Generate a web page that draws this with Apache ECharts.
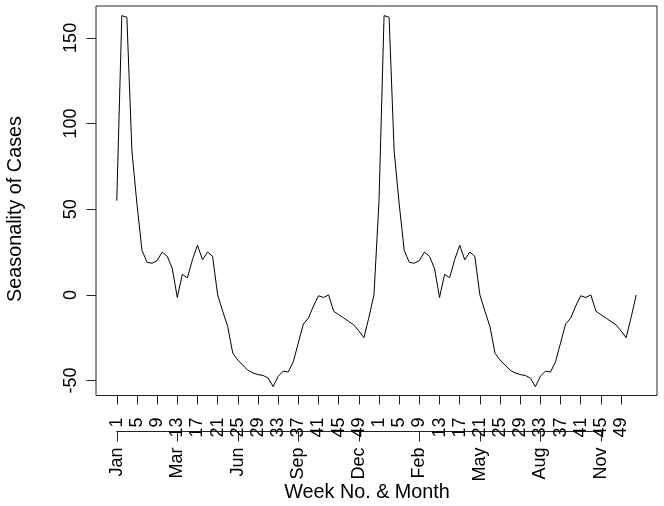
<!DOCTYPE html>
<html>
<head>
<meta charset="utf-8">
<script src="https://cdn.jsdelivr.net/npm/echarts@6/dist/echarts.min.js"></script>
<style>
html,body{margin:0;padding:0;background:#fff;}
#chart{width:664px;height:506px;}
</style>
</head>
<body>
<div id="chart"></div>
<script>
// Seasonality values, week 1..52 of year 1
var year1Values = [55, 163, 162, 84, 53, 26, 19, 18.5, 20, 25, 22.5, 15.5, -1.5, 12, 10, 20.5, 29, 20.5, 25, 22.5,
  0, -9.5, -18.5, -34, -38, -41, -44, -45.5, -46.5, -47, -48.5, -53.5, -47.5, -44.5, -45, -39, -28, -17, -13.5, -6.5,
  -0.5, -1.5, 0, -9.5, -11.5, -13.5, -15.5, -17.5, -21, -25, -13, 0];
// Seasonality values, week 1..52 of year 2
var year2Values = [55, 163, 162, 84, 53, 26, 19, 18.5, 20, 25, 22.5, 15.5, -1.5, 12, 10, 20.5, 29, 20.5, 25, 22.5,
  0, -9.5, -18.5, -34, -38, -41, -44, -45.5, -46.5, -47, -48.5, -53.5, -47.5, -44.5, -45, -39, -28, -17, -13.5, -6.5,
  -0.5, -1.5, 0, -9.5, -11.5, -13.5, -15.5, -17.5, -21, -25, -13, 0];

var weekTickPositions = [1,5,9,13,17,21,25,29,33,37,41,45,49,53,57,61,65,69,73,77,81,85,89,93,97,101];
var weekTickLabels = ['1','5','9','13','17','21','25','29','33','37','41','45','49','1','5','9','13','17','21','25','29','33','37','41','45','49'];
var monthTickPositions = [1,13,25,37,49,61,73,85,97];
var monthTickLabels = ['Jan','Mar','Jun','Sep','Dec','Feb','May','Aug','Nov'];
var yTickValues = [-50, 0, 50, 100, 150];

var allValues = year1Values.concat(year2Values);
var seriesData = allValues.map(function (v, i) { return [i + 1, v]; });

var xMin = -3.12, xMax = 108.12;
var yMin = -58.7, yMax = 168.6;

var gridLeft = 96, gridRight = 7, gridTop = 6, gridBottom = 110.5;
var plotW = 664 - gridLeft - gridRight;
var mLeft = gridLeft + (monthTickPositions[0] - xMin) / (xMax - xMin) * plotW;
var mRight = 664 - (gridLeft + (monthTickPositions[monthTickPositions.length - 1] - xMin) / (xMax - xMin) * plotW);

var FONT = '"Liberation Sans", Arial, Helvetica, sans-serif';
var TICK_FS = 18;

var chart = echarts.init(document.getElementById('chart'), null, {renderer: 'canvas'});
chart.setOption({
  animation: false,
  backgroundColor: '#ffffff',
  grid: [
    {left: gridLeft, right: gridRight, top: gridTop, bottom: gridBottom, show: true,
     borderColor: '#222', borderWidth: 1, backgroundColor: 'transparent', containLabel: false},
    {left: mLeft, right: mRight, top: 430.5, height: 1, show: false}
  ],
  xAxis: [
    {
      type: 'value', gridIndex: 0, min: xMin, max: xMax, position: 'bottom',
      splitLine: {show: false},
      axisLine: {show: false, onZero: false},
      axisTick: {show: true, customValues: weekTickPositions, length: 9, lineStyle: {color: '#222', width: 1}},
      axisLabel: {
        show: true, customValues: weekTickPositions, rotate: 90, margin: 22,
        fontFamily: FONT, fontSize: TICK_FS, color: '#000',
        formatter: function (v) { var k = weekTickPositions.indexOf(v); return k >= 0 ? weekTickLabels[k] : ''; }
      }
    },
    {
      type: 'value', gridIndex: 1, min: monthTickPositions[0], max: monthTickPositions[monthTickPositions.length - 1],
      position: 'bottom',
      splitLine: {show: false},
      axisLine: {show: true, onZero: false, lineStyle: {color: '#222', width: 1}},
      axisTick: {show: true, customValues: monthTickPositions, length: 10, lineStyle: {color: '#222', width: 1}},
      axisLabel: {
        show: true, customValues: monthTickPositions, rotate: 90, margin: 16,
        fontFamily: FONT, fontSize: TICK_FS, color: '#000',
        formatter: function (v) { var k = monthTickPositions.indexOf(v); return k >= 0 ? monthTickLabels[k] : ''; }
      }
    }
  ],
  yAxis: [
    {
      type: 'value', gridIndex: 0, min: yMin, max: yMax,
      splitLine: {show: false},
      axisLine: {show: false, onZero: false},
      axisTick: {show: true, customValues: yTickValues, length: 9.5, lineStyle: {color: '#222', width: 1}},
      axisLabel: {
        show: true, customValues: yTickValues, rotate: 90, margin: 16,
        fontFamily: FONT, fontSize: TICK_FS, color: '#000'
      }
    },
    {type: 'value', gridIndex: 1, show: false, min: 0, max: 1, axisLine: {onZero: false}}
  ],
  graphic: [
    {type: 'text', x: 367, y: 493, z: 10,
     style: {text: 'Week No. & Month', font: '19.8px ' + FONT, fill: '#000', align: 'center', verticalAlign: 'middle'}},
    {type: 'text', x: 16, y: 209, rotation: Math.PI / 2, z: 10,
     style: {text: 'Seasonality of Cases', font: '19.8px ' + FONT, fill: '#000', align: 'center', verticalAlign: 'middle'}}
  ],
  series: [
    {
      type: 'line', xAxisIndex: 0, yAxisIndex: 0, data: seriesData,
      showSymbol: false, symbol: 'none', smooth: false,
      lineStyle: {color: '#000', width: 1}
    }
  ]
});
</script>
</body>
</html>
